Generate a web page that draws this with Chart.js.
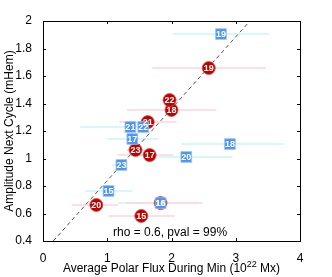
<!DOCTYPE html>
<html>
<head>
<meta charset="utf-8">
<script src="https://cdn.jsdelivr.net/npm/chart.js@4"></script>
<style>
  html, body { margin: 0; padding: 0; background: #fff; }
  #wrap { width: 332px; height: 277px; }
</style>
</head>
<body>
<div id="wrap"><canvas id="myChart" width="332" height="277"></canvas></div>
<script>
const cycles = ['15', '16', '17', '18', '19', '20', '21', '22', '23'];

// red circles
const redFlux = [1.53, 1.83, 1.66, 2.00, 2.58, 0.83, 1.63, 1.97, 1.44];
const redAmp = [0.582, 0.676, 1.025, 1.353, 1.658, 0.662, 1.265, 1.425, 1.062];
const redLo = [1.02, 1.30, 1.16, 1.31, 1.70, 0.45, 1.19, 1.84, 1.30];
const redHi = [2.05, 2.48, 2.03, 2.70, 3.47, 1.17, 2.08, 2.10, 1.60];

// blue squares
const blueFlux = [1.02, 1.83, 1.39, 2.91, 2.77, 2.23, 1.36, 1.56, 1.22];
const blueAmp = [0.764, 0.676, 1.142, 1.105, 1.905, 1.011, 1.229, 1.229, 0.953];
const blueLo = [0.66, 1.17, 1.00, 2.16, 2.02, 1.80, 0.58, 1.45, 1.08];
const blueHi = [1.39, 2.40, 1.80, 3.75, 3.52, 2.95, 1.45, 1.70, 1.30];

// dashed fit line
const fitX = [0.16, 3.22];
const fitY = [0.4, 2.0];

const xTicks = [0, 1, 2, 3, 4];
const yTicks = [0.4, 0.6, 0.8, 1, 1.2, 1.4, 1.6, 1.8, 2];

const FONT = 'Liberation Sans, Arial, sans-serif';

function barSets(flux, amp, lo, hi, color) {
    return flux.map((_, i) => ({
        type: 'line',
        data: [{ x: lo[i], y: amp[i] }, { x: hi[i], y: amp[i] }],
        borderColor: color,
        borderWidth: 1.5,
        pointRadius: 0,
        showLine: true,
        order: 4,
    }));
}

// lower order is drawn on top
const datasets = [
    ...barSets(redFlux, redAmp, redLo, redHi, '#ffd3df'),
    ...barSets(blueFlux, blueAmp, blueLo, blueHi, '#c9f6f6'),
    {
        type: 'line',
        data: fitX.map((x, i) => ({ x: x, y: fitY[i] })),
        borderColor: '#555',
        borderWidth: 1,
        borderDash: [4, 3],
        pointRadius: 0,
        showLine: true,
        order: 3,
    },
    {
        label: 'red',
        data: redFlux.map((x, i) => ({ x: x, y: redAmp[i] })),
        pointStyle: 'circle',
        pointRadius: 6.5,
        backgroundColor: '#c00000',
        borderColor: '#d84848',
        borderWidth: 0.8,
        labels: cycles,
        order: 2,
    },
    {
        label: 'blue',
        data: blueFlux.map((x, i) => ({ x: x, y: blueAmp[i] })),
        pointStyle: 'rect',
        pointRadius: 7.6,
        backgroundColor: '#4b94f2',
        borderColor: '#9cc4f8',
        borderWidth: 0.8,
        labels: cycles,
        order: 1,
    },
];

// numbers inside markers, inward ticks, frame, x title with superscript, stats text
const extras = {
    id: 'extras',
    afterDatasetsDraw(chart) {
        const ctx = chart.ctx;
        ctx.save();
        ctx.font = 'bold 9px ' + FONT;
        ctx.fillStyle = '#fff';
        ctx.textAlign = 'center';
        ctx.textBaseline = 'middle';
        chart.data.datasets.forEach((ds, di) => {
            if (!ds.labels) return;
            chart.getDatasetMeta(di).data.forEach((pt, i) => {
                ctx.fillText(ds.labels[i], pt.x, pt.y + 0.5);
            });
        });
        ctx.restore();
    },
    afterDraw(chart) {
        const ctx = chart.ctx;
        const a = chart.chartArea;
        const xs = chart.scales.x, ys = chart.scales.y;
        ctx.save();
        ctx.strokeStyle = '#000';
        ctx.lineWidth = 1;
        ctx.beginPath();
        xTicks.forEach(v => {
            const p = Math.round(xs.getPixelForValue(v)) + 0.5;
            ctx.moveTo(p, a.bottom); ctx.lineTo(p, a.bottom - 3);
            ctx.moveTo(p, a.top); ctx.lineTo(p, a.top + 3);
        });
        yTicks.forEach(v => {
            const p = Math.round(ys.getPixelForValue(v)) + 0.5;
            ctx.moveTo(a.left, p); ctx.lineTo(a.left + 3, p);
            ctx.moveTo(a.right, p); ctx.lineTo(a.right - 3, p);
        });
        ctx.stroke();
        ctx.lineWidth = 1;
        ctx.strokeRect(Math.round(a.left) + 0.5, Math.round(a.top) + 0.5,
            Math.round(a.right - a.left), Math.round(a.bottom - a.top));

        ctx.fillStyle = '#000';
        ctx.textBaseline = 'alphabetic';
        ctx.font = '12px ' + FONT;
        ctx.textAlign = 'left';
        ctx.fillText('rho = 0.6, pval = 99%', 113, 236);

        const t1 = 'Average Polar Flux During Min (10', sup = '22', t2 = ' Mx)';
        ctx.font = '12px ' + FONT;
        const w1 = ctx.measureText(t1).width, w2 = ctx.measureText(t2).width;
        ctx.font = '9px ' + FONT;
        const ws = ctx.measureText(sup).width;
        const total = w1 + ws + w2;
        let x0 = (a.left + a.right) / 2 - total / 2;
        const base = 272;
        ctx.font = '12px ' + FONT;
        ctx.fillText(t1, x0, base);
        ctx.font = '9px ' + FONT;
        ctx.fillText(sup, x0 + w1, base - 5);
        ctx.font = '12px ' + FONT;
        ctx.fillText(t2, x0 + w1 + ws, base);
        ctx.restore();
    }
};

const config = {
    type: 'scatter',
    data: { datasets: datasets },
    options: {
        responsive: false,
        animation: false,
        layout: { padding: { top: 21, right: 32, left: 2, bottom: 0 } },
        plugins: { legend: { display: false }, tooltip: { enabled: false } },
        scales: {
            x: {
                type: 'linear',
                min: 0, max: 4,
                afterFit: s => { s.height = 36; },
                afterBuildTicks: s => { s.ticks = xTicks.map(v => ({ value: v })); },
                grid: { display: false },
                border: { display: false },
                ticks: { color: '#000', font: { family: FONT, size: 12 }, padding: 2, maxRotation: 0 },
            },
            y: {
                type: 'linear',
                min: 0.4, max: 2,
                afterFit: s => { s.width = 41; },
                afterBuildTicks: s => { s.ticks = yTicks.map(v => ({ value: v })); },
                grid: { display: false },
                border: { display: false },
                title: {
                    display: true,
                    text: 'Amplitude Next Cycle (mHem)',
                    color: '#000',
                    font: { family: FONT, size: 12 },
                    padding: { top: 0, bottom: 0 },
                },
                ticks: {
                    color: '#000',
                    font: { family: FONT, size: 12 },
                    padding: 3,
                    callback: v => String(+v.toFixed(1)),
                },
            },
        },
    },
    plugins: [extras],
};

const ctx = document.getElementById('myChart').getContext('2d');
new Chart(ctx, config);
</script>
</body>
</html>
